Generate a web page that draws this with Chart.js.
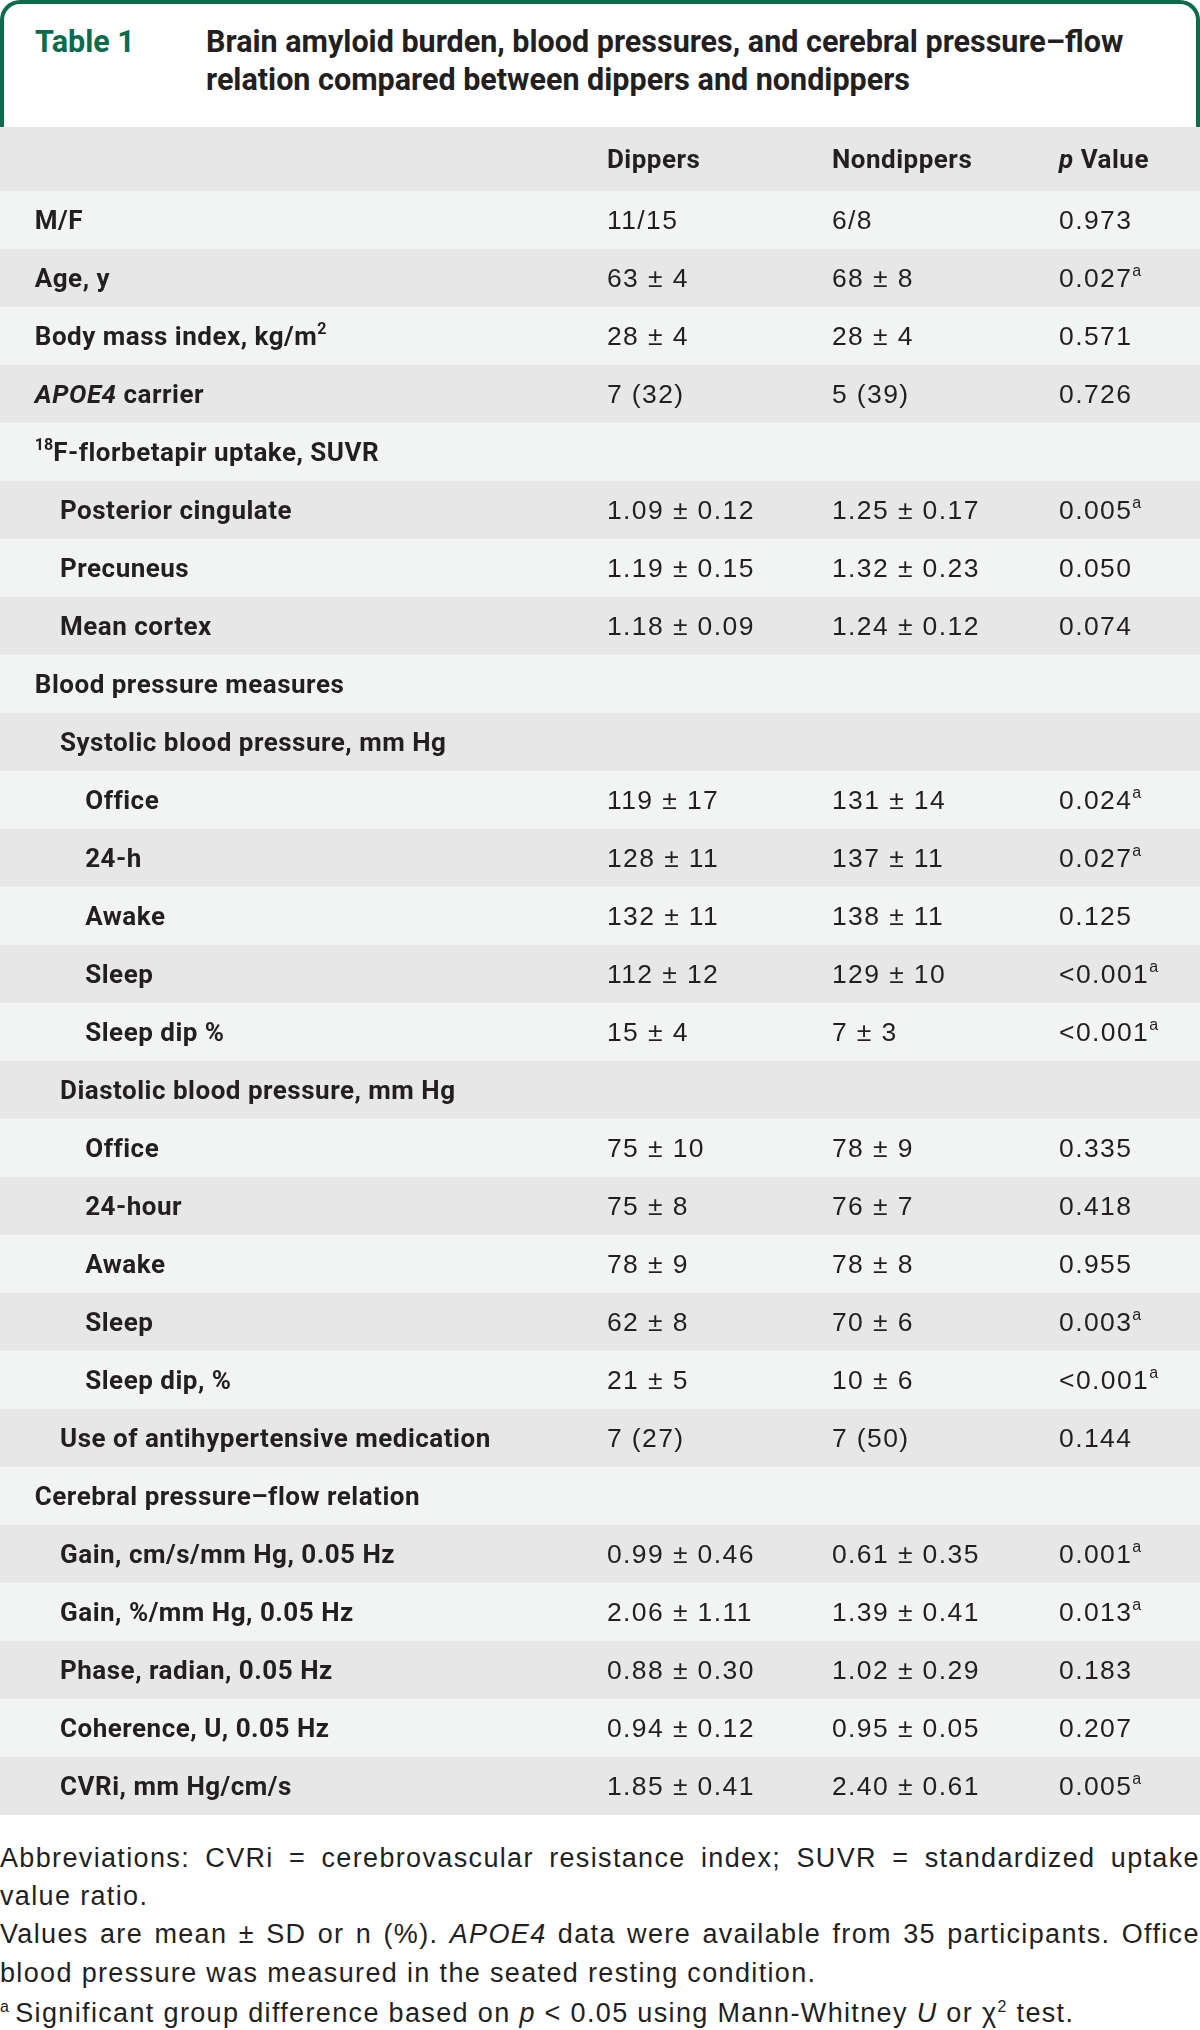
<!DOCTYPE html>
<html>
<head>
<meta charset="utf-8">
<script src="https://cdn.jsdelivr.net/npm/chart.js@4.4.0/dist/chart.umd.min.js"></script>
<style>
  body { margin: 0; background: #fff; width: 1200px; height: 2030px; position: relative; overflow: hidden; }
  #box { position: absolute; left: 0; top: 0; width: 1200px; height: 140px; box-sizing: border-box;
         border: 4px solid #0b6b4c; border-bottom: none; border-radius: 20px 20px 0 0; }
  #tnum { position: absolute; left: 35px; top: 23px; font: bold 30.5px Roboto; line-height: 38px; color: #0b6b4c; }
  #ttl { position: absolute; left: 206px; top: 23px; font: bold 30.5px Roboto; line-height: 38px; color: #231f20; }
  #tbl { position: absolute; left: 0; top: 127px; }
  .fn { position: absolute; left: 0; width: 1200px; font: 27px "Liberation Sans"; line-height: 38px;
        color: #231f20; letter-spacing: 1.35px; white-space: nowrap; }
  .fn.just { display: flex; justify-content: space-between; }
  .fn sup { font-size: 16px; vertical-align: 10px; line-height: 0; }
  .fn sup.lead { margin-right: 5px; }
</style>
</head>
<body>
<div id="box"></div>
<div id="tnum">Table 1</div>
<div id="ttl">Brain amyloid burden, blood pressures, and cerebral pressure–flow<br>relation compared between dippers and nondippers</div>
<canvas id="tbl" width="1200" height="1688"></canvas>
<div id="notes"></div>
<script>
// table content
var colHeads = ['Dippers', 'Nondippers', '<i>p</i> Value'];
var rowLabels = ['M/F', 'Age, y', 'Body mass index, kg/m<sup>2</sup>', '<i>APOE4</i> carrier',
  '<sup>18</sup>F-florbetapir uptake, SUVR', 'Posterior cingulate', 'Precuneus', 'Mean cortex',
  'Blood pressure measures', 'Systolic blood pressure, mm Hg', 'Office', '24-h', 'Awake', 'Sleep', 'Sleep dip %',
  'Diastolic blood pressure, mm Hg', 'Office', '24-hour', 'Awake', 'Sleep', 'Sleep dip, %',
  'Use of antihypertensive medication', 'Cerebral pressure–flow relation',
  'Gain, cm/s/mm Hg, 0.05 Hz', 'Gain, %/mm Hg, 0.05 Hz', 'Phase, radian, 0.05 Hz',
  'Coherence, U, 0.05 Hz', 'CVRi, mm Hg/cm/s'];
var rowLevel = [0,0,0,0,0,1,1,1,0,1,2,2,2,2,2,1,2,2,2,2,2,1,0,1,1,1,1,1];
var dippers = ['11/15','63 ± 4','28 ± 4','7 (32)','','1.09 ± 0.12','1.19 ± 0.15','1.18 ± 0.09','','',
  '119 ± 17','128 ± 11','132 ± 11','112 ± 12','15 ± 4','','75 ± 10','75 ± 8','78 ± 9','62 ± 8','21 ± 5',
  '7 (27)','','0.99 ± 0.46','2.06 ± 1.11','0.88 ± 0.30','0.94 ± 0.12','1.85 ± 0.41'];
var nondippers = ['6/8','68 ± 8','28 ± 4','5 (39)','','1.25 ± 0.17','1.32 ± 0.23','1.24 ± 0.12','','',
  '131 ± 14','137 ± 11','138 ± 11','129 ± 10','7 ± 3','','78 ± 9','76 ± 7','78 ± 8','70 ± 6','10 ± 6',
  '7 (50)','','0.61 ± 0.35','1.39 ± 0.41','1.02 ± 0.29','0.95 ± 0.05','2.40 ± 0.61'];
var pValues = ['0.973','0.027','0.571','0.726','','0.005','0.050','0.074','','',
  '0.024','0.027','0.125','<0.001','<0.001','','0.335','0.418','0.955','0.003','<0.001',
  '0.144','','0.001','0.013','0.183','0.207','0.005'];
var pSig = [0,1,0,0,0,1,0,0,0,0,1,1,0,1,1,0,0,0,0,1,1,0,0,1,1,0,0,1];

var footLines = [
  { html: 'Abbreviations: CVRi = cerebrovascular resistance index; SUVR = standardized uptake', just: true },
  { html: 'value ratio.', just: false },
  { html: 'Values are mean ± SD or n (%). <i>APOE4</i> data were available from 35 participants. Office', just: true },
  { html: 'blood pressure was measured in the seated resting condition.', just: false },
  { html: '<sup class="lead">a</sup>Significant group difference based on <i>p</i> &lt; 0.05 using Mann-Whitney <i>U</i> or χ<sup>2</sup> test.', just: false }
];

var lightRow = '#f2f4f3';
var grayRow = '#e7e7e7';
var inkColor = '#231f20';
var colPos = [0.5058, 0.6933, 0.8825];   // fraction of table width
var indentPos = [0.029, 0.05, 0.071];
var labelFont = { size: 26, weight: 'bold', family: 'Roboto', ls: 0.5 };
var valueFont = { size: 26.5, weight: 'normal', family: '"Liberation Sans"', ls: 1.4 };

// draws text with <i> and <sup> tags
function drawRich(ctx, str, x, y, f) {
  var parts = str.split(/(<\/?i>|<\/?sup>)/);
  var ital = false, sup = false;
  parts.forEach(function (p) {
    if (p === '<i>') { ital = true; return; }
    if (p === '</i>') { ital = false; return; }
    if (p === '<sup>') { sup = true; return; }
    if (p === '</sup>') { sup = false; return; }
    if (!p) return;
    var size = sup ? Math.round(f.size * 0.6) : f.size;
    ctx.font = (ital ? 'italic ' : '') + f.weight + ' ' + size + 'px ' + f.family;
    ctx.letterSpacing = (sup ? 0 : f.ls) + 'px';
    ctx.fillText(p, x, sup ? y - f.size * 0.42 : y);
    x += ctx.measureText(p).width;
  });
}

var tableText = {
  id: 'tableText',
  beforeDatasetsDraw: function (chart) {
    var ctx = chart.ctx;
    ctx.save();
    ctx.fillStyle = grayRow;
    ctx.fillRect(0, 0, chart.width, chart.chartArea.top);
    ctx.restore();
  },
  afterDatasetsDraw: function (chart) {
    var ctx = chart.ctx, xs = chart.scales.x, ys = chart.scales.y;
    ctx.save();
    ctx.fillStyle = inkColor;
    ctx.textBaseline = 'alphabetic';
    var hy = chart.chartArea.top / 2 + 9;
    colHeads.forEach(function (h, j) {
      drawRich(ctx, h, xs.getPixelForValue(colPos[j]), hy, labelFont);
    });
    rowLabels.forEach(function (lab, i) {
      var by = ys.getPixelForValue(i) + 9;
      drawRich(ctx, lab, xs.getPixelForValue(indentPos[rowLevel[i]]), by, labelFont);
      drawRich(ctx, dippers[i], xs.getPixelForValue(colPos[0]), by, valueFont);
      drawRich(ctx, nondippers[i], xs.getPixelForValue(colPos[1]), by, valueFont);
      var pv = pValues[i] + (pSig[i] ? '<sup>a</sup>' : '');
      drawRich(ctx, pv, xs.getPixelForValue(colPos[2]), by, valueFont);
    });
    ctx.restore();
  }
};

new Chart(document.getElementById('tbl'), {
  type: 'bar',
  data: {
    labels: rowLabels.map(function (l) { return l.replace(/<[^>]+>/g, ''); }),
    datasets: [{
      data: rowLabels.map(function () { return [0, 1]; }),
      backgroundColor: rowLabels.map(function (l, i) { return i % 2 ? grayRow : lightRow; }),
      borderWidth: 0,
      barPercentage: 1,
      categoryPercentage: 1
    }]
  },
  options: {
    indexAxis: 'y',
    responsive: false,
    animation: false,
    layout: { padding: { top: 64, left: 0, right: 0, bottom: 0 } },
    scales: {
      x: { type: 'linear', min: 0, max: 1, display: false },
      y: { display: false }
    },
    plugins: { legend: { display: false }, tooltip: { enabled: false } }
  },
  plugins: [tableText]
});

// footnotes
var notes = document.getElementById('notes');
var footTop = [1839, 1877, 1915, 1954, 1994];
footLines.forEach(function (ln, k) {
  var d = document.createElement('div');
  d.className = 'fn' + (ln.just ? ' just' : '');
  d.style.top = footTop[k] + 'px';
  if (ln.just) {
    d.innerHTML = ln.html.split(' ').map(function (w) { return '<span>' + w + '</span>'; }).join('');
  } else {
    d.innerHTML = ln.html;
  }
  notes.appendChild(d);
});
</script>
</body>
</html>
